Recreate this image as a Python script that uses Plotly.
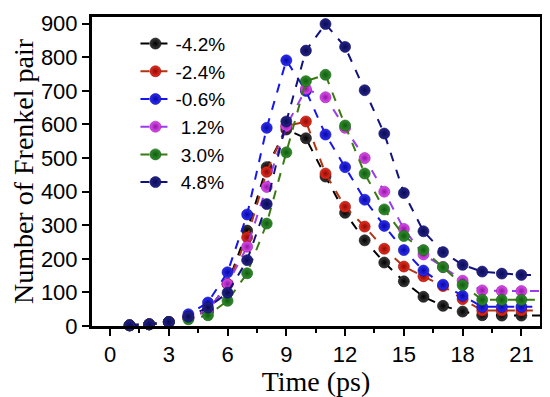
import plotly.graph_objects as go

time_ps = list(range(1, 23))

labels = ["-4.2%", "-2.4%", "-0.6%", "\u00a01.2%", "\u00a03.0%", "\u00a04.8%"]

s_m42 = [2, 5, 12, 25, 45, 125, 284, 473, 585, 559, 445, 337, 255, 189, 133, 87, 60, 43, 32, 31, 31, 31]
s_m24 = [2, 5, 12, 25, 45, 125, 264, 459, 595, 609, 454, 355, 296, 230, 177, 148, 119, 80, 46, 46, 46, 46]
s_m06 = [2, 5, 12, 35, 70, 160, 332, 590, 791, 700, 570, 473, 376, 298, 226, 165, 123, 90, 57, 57, 57, 57]
s_p12 = [2, 5, 12, 25, 45, 125, 236, 414, 595, 706, 681, 590, 500, 400, 289, 213, 176, 135, 106, 104, 104, 104]
s_p30 = [2, 5, 12, 20, 32, 75, 157, 305, 517, 729, 748, 597, 454, 347, 268, 226, 175, 122, 78, 78, 78, 78]
s_p48 = [2, 5, 12, 28, 55, 99, 196, 363, 609, 820, 899, 831, 702, 573, 396, 282, 220, 182, 162, 156, 152, 152]

series = [s_m42, s_m24, s_m06, s_p12, s_p30, s_p48]
marker_colors = ["#3a3a3a", "#ee2a1c", "#2b2bff", "#e24cf5", "#2f8f2a", "#23238f"]
edge_colors = ["#000000", "#8a0e06", "#0a0a9a", "#8e189e", "#135a12", "#0b0b4f"]
line_colors = ["#000000", "#b33412", "#1515f0", "#9a3cf0", "#3b7a12", "#12127e"]

fig = go.Figure()
for lab, ys, mc, ec, lc in zip(labels, series, marker_colors, edge_colors, line_colors):
    fig.add_trace(go.Scatter(
        x=time_ps, y=ys, name=lab, mode="lines+markers",
        line=dict(color=lc, width=2, dash="dash"),
        marker=dict(size=11, color=mc, gradient=dict(type="radial", color=ec),
                    line=dict(width=0.6, color=ec)),
        cliponaxis=False,
    ))

# page body adds an 8px offset; figure is sized to fill the rest of the window
fig.update_layout(
    width=542, height=389,
    margin=dict(l=84, r=10, t=3, b=71),
    paper_bgcolor="white", plot_bgcolor="white",
    showlegend=True,
    legend=dict(x=0.097, y=0.975, xanchor="left", yanchor="top",
                bgcolor="rgba(0,0,0,0)", tracegroupgap=0,
                font=dict(family="Liberation Sans, Arial", size=19, color="black")),
    font=dict(family="Liberation Sans, Arial", size=22, color="black"),
)
fig.update_xaxes(
    range=[-0.92, 21.95], tickmode="linear", tick0=0, dtick=3,
    ticks="outside", ticklen=7, tickwidth=2, tickcolor="black",
    minor=dict(ticks="outside", ticklen=4, tickwidth=2, tickcolor="black", dtick=1.5, tick0=0),
    showline=True, linewidth=3, linecolor="black", mirror=True,
    showgrid=False, zeroline=False,
    tickfont=dict(family="Liberation Sans, Arial", size=22),
    title=dict(text="Time (ps)", font=dict(family="Liberation Serif, Times New Roman", size=28), standoff=4),
)
fig.update_yaxes(
    range=[0, 920], tickmode="linear", tick0=0, dtick=100,
    ticks="outside", ticklen=7, tickwidth=2, tickcolor="black",
    showline=True, linewidth=3, linecolor="black", mirror=True,
    showgrid=False, zeroline=False,
    tickfont=dict(family="Liberation Sans, Arial", size=22),
    title=dict(text="Number of Frenkel pair", font=dict(family="Liberation Serif, Times New Roman", size=28), standoff=2),
)

fig.write_html("out.html")
